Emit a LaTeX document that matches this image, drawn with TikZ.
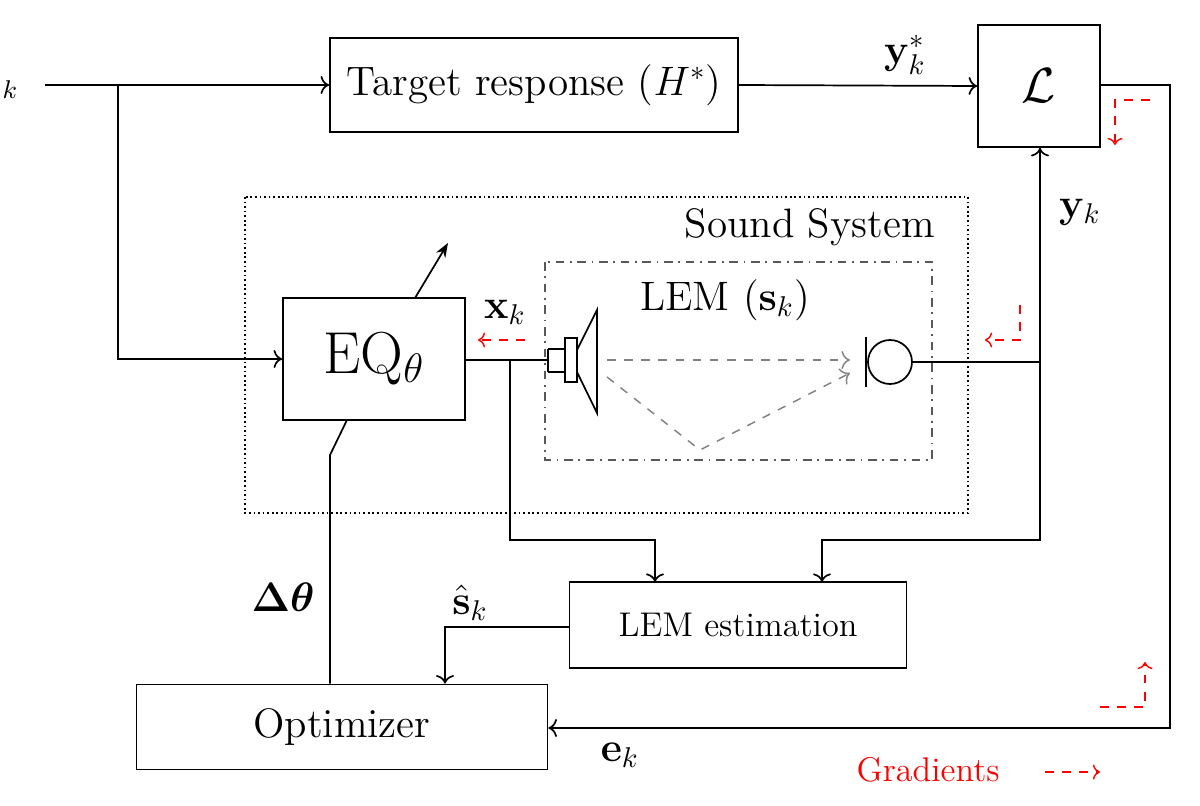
\documentclass[tikz,border=0pt]{standalone}
\usepackage{amsmath,amssymb}
\usetikzlibrary{arrows.meta}
\begin{document}
\begin{tikzpicture}[x=0.35pt,y=-0.35pt,line width=0.6pt,
  box/.style={draw,line width=0.6pt,inner sep=0pt},
  arr/.style={-{To[length=3pt]}},
  grad/.style={red,dashed,line width=0.5pt,-{To[length=2.5pt]}},
  wave/.style={gray,dashed,line width=0.5pt,-{To[length=3pt]}}]
\useasboundingbox (0,0) rectangle (1200,806);
% boxes
\node[box,minimum width=408*0.35pt,minimum height=94*0.35pt] (tr) at (534,85) {\Large Target response ($H^*$)};
\node[box,minimum width=122*0.35pt,minimum height=122*0.35pt] (L) at (1039,86) {\LARGE $\mathcal{L}$};
\draw[densely dotted,line width=0.6pt] (245,197) rectangle (968,513);
\node[anchor=east] (ss) at (945,227) {\Large Sound System};
\draw[dash dot,line width=0.6pt,gray!70!black] (545,262) rectangle (932,460);
\node (lem) at (725,300) {\Large LEM ($\mathbf{s}_k$)};
\node[box,minimum width=182*0.35pt,minimum height=122*0.35pt] (eq) at (374,359) {\huge EQ$_\theta$};
\node[box,minimum width=337*0.35pt,minimum height=86*0.35pt] (est) at (738,625) {\large LEM estimation};
\node[box,minimum width=411*0.35pt,minimum height=85*0.35pt] (opt) at (342,727) {\Large Optimizer};
% input
\node (k) at (10,90) {\small $k$};
\coordinate (in) at (45,85);
\coordinate (br) at (118,85);
\draw[arr] (in) -- (tr.west);
\draw[arr] (br) |- (eq.west);
\draw[arr] (tr.east) -- (L.west);
\node (ys) at (905,55) {\Large $\mathbf{y}^*_k$};
% error path
\coordinate (e1) at (1170,85);
\coordinate (e2) at (1170,728);
\draw[arr] (L.east|-e1) -- (e1) -- (e2) -- (opt.east|-e2);
\node (ek) at (620,755) {\Large $\mathbf{e}_k$};
% EQ adapt arrow and optimizer
\draw[-{Stealth[length=5pt]}] (415,298) -- (448,243);
\coordinate (o1) at (330,455);
\draw (opt.north-|o1) -- (o1) -- (347,420);
\node (dt) at (283,597) {\Large $\boldsymbol{\Delta\theta}$};
% speaker
\coordinate (sp) at (548,360);
\draw (eq.east|-sp) -- (sp);
\draw (548,349) -- (565,349) (548,372) -- (565,372);
\draw (548,349) -- (548,372);
\draw (565,338) rectangle (577,382);
\draw (577,350) -- (597,310) -- (597,413) -- (577,372);
\node (xk) at (505,312) {\Large $\mathbf{x}_k$};
\draw[grad] (525,340) -- (478,340);
\coordinate (b1) at (510,360);
\coordinate (b2) at (510,540);
\draw[arr] (b1) -- (b2) -| (655,582);
% waves
\draw[wave] (607,360) -- (850,360);
\draw[wave] (607,377) -- (700,450) -- (850,373);
% mic
\draw (866,337) -- (866,387);
\draw (890,362) circle (22);
\coordinate (m1) at (1040,362);
\draw (912,362) -- (m1);
\draw[arr] (m1) -- (L.south-|m1);
\node (yk) at (1080,212) {\Large $\mathbf{y}_k$};
\draw[arr] (m1) -- (1040,540) -| (822,582);
% shat
\coordinate (s1) at (445,627);
\draw[arr] (est.west|-s1) -- (s1) -- (opt.north-|s1);
\node (sh) at (470,603) {\Large $\hat{\mathbf{s}}_k$};
% gradients
\draw[grad] (1020,305) -- (1020,340) -- (985,340);
\draw[grad] (1150,100) -- (1115,100) -- (1115,145);
\draw[grad] (1100,707) -- (1145,707) -- (1145,662);
\node[red,anchor=east] (gl) at (1010,770) {\large Gradients};
\draw[grad] (1045,772) -- (1100,772);
\end{tikzpicture}
\end{document}
